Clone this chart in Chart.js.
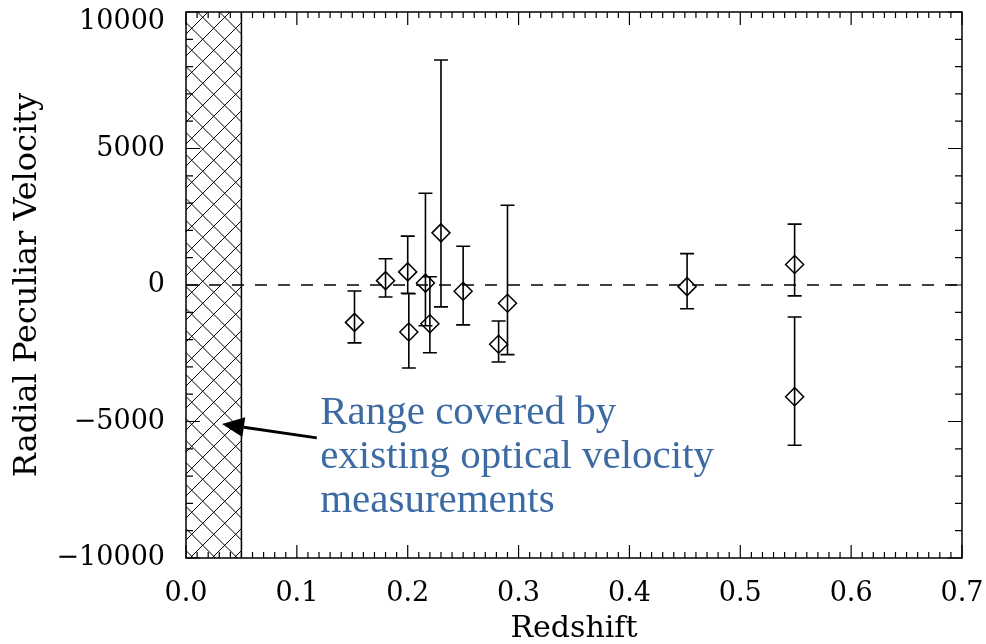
<!DOCTYPE html>
<html lang="en">
<head>
<meta charset="UTF-8">
<title>Radial Peculiar Velocity vs Redshift</title>
<style>
  html, body { margin: 0; padding: 0; background: #fff; }
</style>
</head>
<body>
<canvas id="myChart" width="986" height="644"></canvas>
<script src="https://cdn.jsdelivr.net/npm/chart.js"></script>
<script>
  // values
  const redshift = [0.152, 0.180, 0.200, 0.201, 0.216, 0.220, 0.230, 0.250, 0.282, 0.290, 0.452, 0.549, 0.549];
  const velocity = [-1370, 160, 480, -1720, 70, -1420, 1910, -230, -2170, -670, -60, 750, -4090];
  const velLow   = [-2120, -440, -300, -3040, -1490, -2480, -800, -1460, -2820, -2550, -870, -400, -5870];
  const velHigh  = [-220, 960, 1790, -320, 3360, 300, 8240, 1420, -1320, 2920, 1150, 2230, -1170];

  const xTicks = [0, 0.1, 0.2, 0.3, 0.4, 0.5, 0.6, 0.7];
  const yTicks = [-10000, -5000, 0, 5000, 10000];
  const opticalLimit = 0.05;   // hatched range of optical measurements

  const noteLines = ['Range covered by', 'existing optical velocity', 'measurements'];
  const noteAt = {x: 0.121, y: -5090};
  const arrowTip = {x: 0.0325, y: -5090};
  const arrowTail = {x: 0.118, y: -5600};

  const points = redshift.map((z, i) => ({x: z, y: velocity[i]}));

  const axisFont = {family: 'DejaVu Serif', size: 27};
  const yMax = yTicks[yTicks.length - 1];

  const idlPlot = {
    id: 'idlPlot',
    beforeDatasetsDraw(chart) {
      const {ctx, chartArea} = chart;
      const xs = chart.scales.x, ys = chart.scales.y;

      // cross hatched strip
      const x0 = xs.getPixelForValue(0), x1 = xs.getPixelForValue(opticalLimit);
      const top = chartArea.top, bot = chartArea.bottom;
      ctx.save();
      ctx.beginPath();
      ctx.rect(x0, top, x1 - x0, bot - top);
      ctx.clip();
      ctx.strokeStyle = '#000';
      ctx.lineWidth = 1;
      const step = 22;
      const w = x1 - x0;
      ctx.beginPath();
      for (let c = -w; c < bot - top + w; c += step) {
        ctx.moveTo(x0, top + c);
        ctx.lineTo(x1, top + c + w);
        ctx.moveTo(x0, top + c + w);
        ctx.lineTo(x1, top + c);
      }
      ctx.stroke();
      ctx.restore();
      ctx.save();
      ctx.strokeStyle = '#000';
      ctx.lineWidth = 1.5;
      ctx.beginPath();
      ctx.moveTo(x1, top);
      ctx.lineTo(x1, bot);
      ctx.stroke();

      // error bars
      ctx.lineWidth = 1.6;
      ctx.beginPath();
      redshift.forEach((z, i) => {
        const px = xs.getPixelForValue(z);
        const lo = ys.getPixelForValue(velLow[i]);
        const hi = ys.getPixelForValue(velHigh[i]);
        ctx.moveTo(px, lo); ctx.lineTo(px, hi);
        ctx.moveTo(px - 7, lo); ctx.lineTo(px + 7, lo);
        ctx.moveTo(px - 7, hi); ctx.lineTo(px + 7, hi);
      });
      ctx.stroke();
      ctx.restore();
    },
    afterDatasetsDraw(chart) {
      const {ctx, chartArea} = chart;
      const xs = chart.scales.x, ys = chart.scales.y;
      const {left, right, top, bottom} = chartArea;
      ctx.save();
      ctx.strokeStyle = '#000';
      ctx.lineWidth = 1.5;
      ctx.strokeRect(left, top, right - left, bottom - top);

      // inward ticks on all four sides
      ctx.lineWidth = 1.2;
      ctx.beginPath();
      for (let i = 0; i <= 70; i++) {
        const px = xs.getPixelForValue(i / 100);
        const len = i % 10 === 0 ? 13 : 6;
        ctx.moveTo(px, bottom); ctx.lineTo(px, bottom - len);
        ctx.moveTo(px, top); ctx.lineTo(px, top + len);
      }
      for (let i = -10; i <= 10; i++) {
        const py = ys.getPixelForValue(i * 1000);
        const len = i % 5 === 0 ? 14 : 7;
        ctx.moveTo(left, py); ctx.lineTo(left + len, py);
        ctx.moveTo(right, py); ctx.lineTo(right - len, py);
      }
      ctx.stroke();

      // arrow
      const tx = xs.getPixelForValue(arrowTip.x), ty = ys.getPixelForValue(arrowTip.y);
      const sx = xs.getPixelForValue(arrowTail.x), sy = ys.getPixelForValue(arrowTail.y);
      const ang = Math.atan2(ty - sy, tx - sx);
      const headLen = 22, headW = 10;
      const bx = tx - headLen * Math.cos(ang), by = ty - headLen * Math.sin(ang);
      ctx.lineWidth = 3;
      ctx.beginPath();
      ctx.moveTo(sx, sy);
      ctx.lineTo(bx, by);
      ctx.stroke();
      ctx.fillStyle = '#000';
      ctx.beginPath();
      ctx.moveTo(tx, ty);
      ctx.lineTo(bx + headW * Math.sin(ang), by - headW * Math.cos(ang));
      ctx.lineTo(bx - headW * Math.sin(ang), by + headW * Math.cos(ang));
      ctx.closePath();
      ctx.fill();

      // blue note
      ctx.fillStyle = '#3c6aa3';
      ctx.font = '41px "Liberation Serif"';
      ctx.textAlign = 'left';
      ctx.textBaseline = 'alphabetic';
      const nx = xs.getPixelForValue(noteAt.x), ny = ys.getPixelForValue(noteAt.y);
      noteLines.forEach((t, i) => ctx.fillText(t, nx, ny + i * 44));
      ctx.restore();
    }
  };

  const config = {
    type: 'scatter',
    data: {
      datasets: [{
        data: points,
        pointStyle: 'rectRot',
        pointRadius: 9,
        pointBorderColor: '#000',
        pointBackgroundColor: 'rgba(0,0,0,0)',
        pointBorderWidth: 1.5
      }, {
        // zero line
        data: [{x: xTicks[0], y: 0}, {x: xTicks[xTicks.length - 1], y: 0}],
        showLine: true,
        pointRadius: 0,
        borderColor: '#000',
        borderWidth: 1.5,
        borderDash: [12, 11]
      }]
    },
    options: {
      responsive: false,
      animation: false,
      layout: {padding: {left: 0, right: 24, top: 12, bottom: 0}},
      plugins: {legend: {display: false}, tooltip: {enabled: false}},
      scales: {
        x: {
          type: 'linear',
          min: xTicks[0], max: xTicks[xTicks.length - 1],
          grid: {display: false},
          border: {display: false},
          afterFit: s => { s.height = 86; s.paddingLeft = 0; s.paddingRight = 0; },
          afterBuildTicks: s => { s.ticks = xTicks.map(v => ({value: v})); },
          ticks: {
            color: '#000', font: axisFont, padding: 12, maxRotation: 0,
            callback: v => v.toFixed(1)
          },
          title: {display: true, text: 'Redshift', color: '#000',
            font: {family: 'DejaVu Serif', size: 30, lineHeight: 1}, padding: {top: 0, bottom: 0}}
        },
        y: {
          type: 'linear',
          min: yTicks[0], max: yMax,
          grid: {display: false},
          border: {display: false},
          afterFit: s => { s.width = 186; s.paddingTop = 0; s.paddingBottom = 0; },
          afterBuildTicks: s => { s.ticks = yTicks.map(v => ({value: v})); },
          ticks: {
            color: '#000', padding: 13,
            // top label sits a little below the frame, as in the original
            font: ctx => (ctx.tick && ctx.tick.value === yMax)
              ? {family: 'DejaVu Serif', size: 27, lineHeight: 0.74}
              : axisFont,
            callback: v => v === yMax ? ['', String(v)]
              : (v < 0 ? '\u2212' + Math.abs(v) : String(v))
          },
          title: {display: true, text: 'Radial Peculiar Velocity', color: '#000',
            font: {family: 'DejaVu Serif', size: 32, lineHeight: 1}, padding: {top: 12, bottom: 0}}
        }
      }
    },
    plugins: [idlPlot]
  };

  new Chart(document.getElementById('myChart'), config);
</script>
</body>
</html>
